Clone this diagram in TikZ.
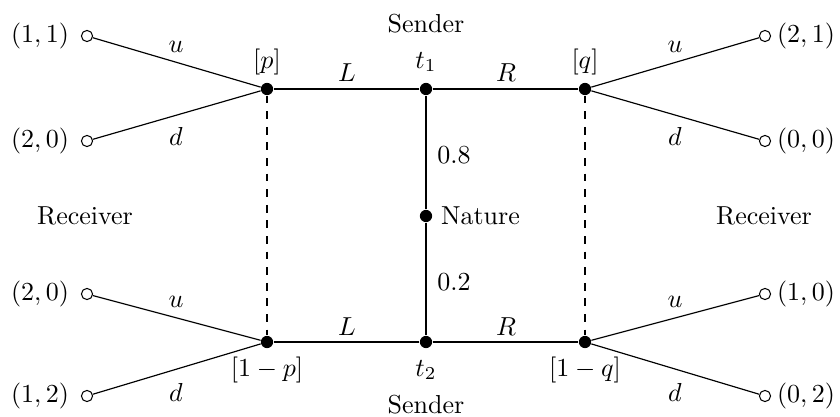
\documentclass[tikz,border=0pt]{standalone}
\begin{document}
\begin{tikzpicture}[x=0.3846pt,y=-0.3846pt,
  dot/.style={circle,fill=black,inner sep=0pt,minimum size=4.7pt},
  term/.style={circle,draw=black,fill=white,inner sep=0pt,minimum size=4.3pt,line width=0.4pt},
  line/.style={line width=0.45pt},
  lab/.style={inner sep=1pt}]
\useasboundingbox (0,0) rectangle (840,417);
% decision nodes
\node[dot] (p) at (267,89) {};
\node[dot] (t1) at (426,89) {};
\node[dot] (q) at (585,89) {};
\node[dot] (p2) at (267,342) {};
\node[dot] (t2) at (426,342) {};
\node[dot] (q2) at (585,342) {};
\node[dot] (nat) at (426,216) {};
% terminal nodes
\node[term] (a1) at (87,36) {};
\node[term] (a2) at (87,141) {};
\node[term] (a3) at (87,294) {};
\node[term] (a4) at (87,396) {};
\node[term] (b1) at (765,36) {};
\node[term] (b2) at (765,141) {};
\node[term] (b3) at (765,294) {};
\node[term] (b4) at (765,396) {};
% edges
\draw[line] (nat) -- (t1);
\draw[line] (nat) -- (t2);
\draw[line] (t1) -- (p);
\draw[line] (t1) -- (q);
\draw[line] (t2) -- (p2);
\draw[line] (t2) -- (q2);
\draw[line] (p) -- (a1);
\draw[line] (p) -- (a2);
\draw[line] (q) -- (b1);
\draw[line] (q) -- (b2);
\draw[line] (p2) -- (a3);
\draw[line] (p2) -- (a4);
\draw[line] (q2) -- (b3);
\draw[line] (q2) -- (b4);
\draw[line,dashed] (p) -- (p2);
\draw[line,dashed] (q) -- (q2);
% payoffs
\node[lab] (pa1) at (40,36) {$(1,1)$};
\node[lab] (pa2) at (40,141) {$(2,0)$};
\node[lab] (pa3) at (40,294) {$(2,0)$};
\node[lab] (pa4) at (40,396) {$(1,2)$};
\node[lab] (pb1) at (806,36) {$(2,1)$};
\node[lab] (pb2) at (806,141) {$(0,0)$};
\node[lab] (pb3) at (806,294) {$(1,0)$};
\node[lab] (pb4) at (806,396) {$(0,2)$};
% action labels
\node[lab] (u1) at (176,47) {$u$};
\node[lab] (d1) at (176,136) {$d$};
\node[lab] (u2) at (675,47) {$u$};
\node[lab] (d2) at (675,136) {$d$};
\node[lab] (u3) at (176,302) {$u$};
\node[lab] (d3) at (176,392) {$d$};
\node[lab] (u4) at (675,302) {$u$};
\node[lab] (d4) at (675,392) {$d$};
\node[lab] (L1) at (347,73) {$L$};
\node[lab] (R1) at (506,73) {$R$};
\node[lab] (L2) at (347,327) {$L$};
\node[lab] (R2) at (506,327) {$R$};
% node labels
\node[lab] (lp) at (267,62) {$[p]$};
\node[lab] (lq) at (585,62) {$[q]$};
\node[lab] (lt1) at (426,62) {$t_1$};
\node[lab] (s1) at (426,24) {Sender};
\node[lab] (lt2) at (426,370) {$t_2$};
\node[lab] (s2) at (426,405) {Sender};
\node[lab] (lp2) at (267,370) {$[1-p]$};
\node[lab] (lq2) at (585,370) {$[1-q]$};
\node[lab] (pr1) at (454,155) {$0.8$};
\node[lab] (pr2) at (454,282) {$0.2$};
\node[lab,anchor=west] (natl) at (438,216) {Nature};
\node[lab] (r1) at (85,216) {Receiver};
\node[lab] (r2) at (764,216) {Receiver};
\end{tikzpicture}
\end{document}
